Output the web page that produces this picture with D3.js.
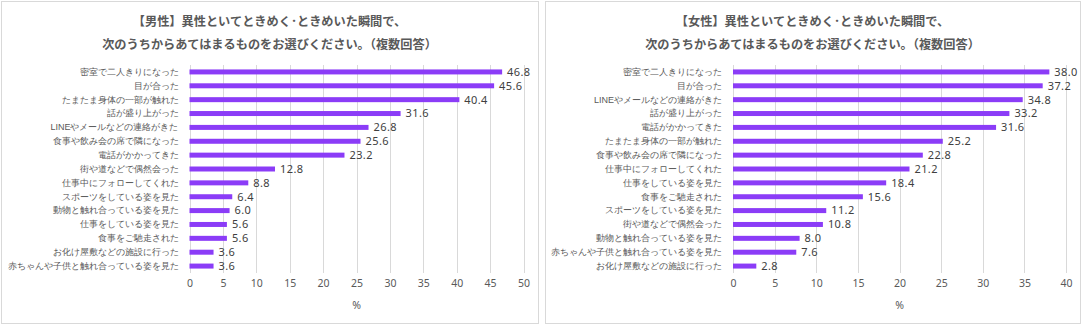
<!DOCTYPE html>
<html><head><meta charset="utf-8">
<script src="https://cdn.jsdelivr.net/npm/d3@7"></script>
<style>
html,body{margin:0;padding:0;background:#fff;}
svg{display:block;font-family:"Noto Sans CJK JP","Noto Sans",sans-serif;}
</style></head><body>
<svg id="chart" width="1083" height="326"></svg>
<script>
const maleCategories = ["密室で二人きりになった","目が合った","たまたま身体の一部が触れた","話が盛り上がった","LINEやメールなどの連絡がきた","食事や飲み会の席で隣になった","電話がかかってきた","街や道などで偶然会った","仕事中にフォローしてくれた","スポーツをしている姿を見た","動物と触れ合っている姿を見た","仕事をしている姿を見た","食事をご馳走された","お化け屋敷などの施設に行った","赤ちゃんや子供と触れ合っている姿を見た"];
const maleValues = [46.8,45.6,40.4,31.6,26.8,25.6,23.2,12.8,8.8,6.4,6.0,5.6,5.6,3.6,3.6];
const maleTicks = [0,5,10,15,20,25,30,35,40,45,50];
const maleTitle = ["【男性】異性といてときめく･ときめいた瞬間で、","次のうちからあてはまるものをお選びください。（複数回答）"];

const femaleCategories = ["密室で二人きりになった","目が合った","LINEやメールなどの連絡がきた","話が盛り上がった","電話がかかってきた","たまたま身体の一部が触れた","食事や飲み会の席で隣になった","仕事中にフォローしてくれた","仕事をしている姿を見た","食事をご馳走された","スポーツをしている姿を見た","街や道などで偶然会った","動物と触れ合っている姿を見た","赤ちゃんや子供と触れ合っている姿を見た","お化け屋敷などの施設に行った"];
const femaleValues = [38.0,37.2,34.8,33.2,31.6,25.2,22.8,21.2,18.4,15.6,11.2,10.8,8.0,7.6,2.8];
const femaleTicks = [0,5,10,15,20,25,30,35,40];
const femaleTitle = ["【女性】異性といてときめく･ときめいた瞬間で、","次のうちからあてはまるものをお選びください。（複数回答）"];

const axisTitle = "%";

const svg = d3.select("#chart");

function panel(opt){
  const g = svg.append("g");
  g.append("rect").attr("x",opt.bx+0.5).attr("y",1.5).attr("width",opt.bw).attr("height",322)
    .attr("fill","#fff").attr("stroke","#d9d9d9").attr("stroke-width",1);
  const cx = opt.bx + opt.bw/2;
  opt.title.forEach((t,i)=>{
    g.append("text").attr("x",cx).attr("y",[22,45][i]).attr("dy","0.35em")
      .attr("text-anchor","middle").attr("font-size",12.2).attr("font-weight","bold")
      .attr("fill","#595959").text(t);
  });
  const x = d3.scaleLinear().domain([0,opt.max]).range([opt.x0,opt.x1]);
  const y = d3.scaleBand().domain(opt.cats).range([65,273]).paddingInner(0.64).paddingOuter(0.32);
  // grid
  g.append("g").selectAll("line").data(opt.ticks).join("line")
    .attr("x1",d=>Math.round(x(d))+0.5).attr("x2",d=>Math.round(x(d))+0.5)
    .attr("y1",65).attr("y2",273).attr("stroke","#d9d9d9").attr("stroke-width",1);
  // x axis labels
  const ax = g.append("g").attr("transform","translate(0,280)")
    .call(d3.axisBottom(x).tickValues(opt.ticks).tickSize(0).tickPadding(0).tickFormat(d3.format("d")));
  ax.select(".domain").remove();
  ax.selectAll("text").attr("font-size",10.5).attr("fill","#595959").attr("font-family","'Noto Sans','DejaVu Sans',sans-serif");
  // y labels
  const ay = g.append("g").attr("transform",`translate(${opt.x0},0)`)
    .call(d3.axisLeft(y).tickSize(0).tickPadding(11));
  ay.select(".domain").remove();
  ay.selectAll("text").attr("font-size",9).attr("fill","#595959");
  // bars
  g.append("g").selectAll("rect").data(opt.vals).join("rect")
    .attr("x",x(0)).attr("y",(d,i)=>y(opt.cats[i]))
    .attr("width",d=>x(d)-x(0)).attr("height",y.bandwidth())
    .attr("fill","#8b3cf7");
  // value labels
  g.append("g").selectAll("text").data(opt.vals).join("text")
    .attr("x",d=>x(d)+5).attr("y",(d,i)=>y(opt.cats[i])+y.bandwidth()/2).attr("dy","0.35em")
    .attr("font-size",11).attr("letter-spacing",0.4).attr("fill","#404040").attr("font-family","'Noto Sans','DejaVu Sans',sans-serif")
    .text(d=>d3.format(".1f")(d));
  // axis title
  g.append("text").attr("x",(opt.x0+opt.x1)/2).attr("y",305).attr("dy","0.35em")
    .attr("text-anchor","middle").attr("font-size",10.5).attr("fill","#595959")
    .attr("font-family","'Noto Sans','DejaVu Sans',sans-serif").text(axisTitle);
}

panel({bx:1,bw:537,title:maleTitle,cats:maleCategories,vals:maleValues,ticks:maleTicks,max:50,x0:189.5,x1:523.5});
panel({bx:545,bw:535,title:femaleTitle,cats:femaleCategories,vals:femaleValues,ticks:femaleTicks,max:40,x0:733,x1:1066});
</script>
</body></html>
